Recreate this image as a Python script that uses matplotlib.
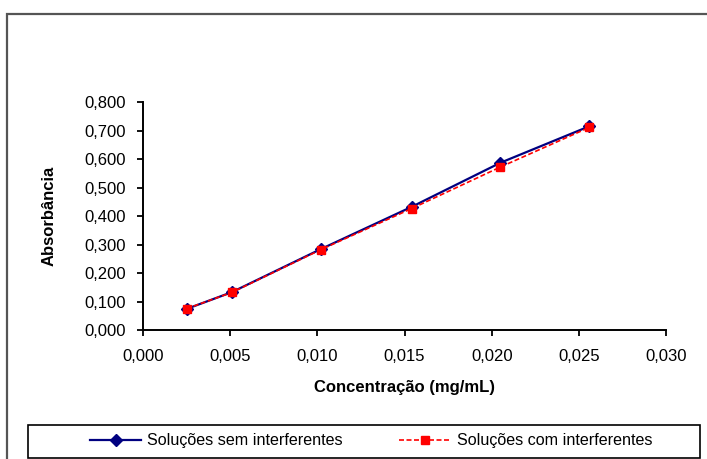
import matplotlib
matplotlib.use("Agg")
import matplotlib.pyplot as plt
from matplotlib.patches import Rectangle
from matplotlib.ticker import FuncFormatter, MultipleLocator

plt.rcParams['font.family'] = ['Liberation Sans', 'DejaVu Sans']

# concentration (mg/mL) and absorbance readings
conc = [0.0025, 0.0051, 0.0102, 0.0154, 0.0205, 0.0256]
abs_sem = [0.074, 0.133, 0.284, 0.432, 0.587, 0.715]
abs_com = [0.075, 0.132, 0.282, 0.426, 0.572, 0.711]

fig = plt.figure(figsize=(7.07, 4.59), dpi=100)
ax = fig.add_axes([0.2023, 0.2810, 0.7398, 0.4967])

ax.plot(conc, abs_sem, color='#000080', lw=1.6, marker='D', ms=6,
        label='Soluções sem interferentes')
ax.plot(conc, abs_com, color='#ff0000', lw=1.2, ls=(0, (3, 1.5)), marker='s', ms=5.8,
        label='Soluções com interferentes')

ax.set_xlim(0, 0.030)
ax.set_ylim(0, 0.8)
ax.xaxis.set_major_locator(MultipleLocator(0.005))
ax.yaxis.set_major_locator(MultipleLocator(0.1))
ax.xaxis.set_major_formatter(FuncFormatter(lambda v, p: f'{v:.3f}'.replace('.', ',')))
ax.yaxis.set_major_formatter(FuncFormatter(lambda v, p: f'{v:.3f}'.replace('.', ',')))

for s in ['top', 'right']:
    ax.spines[s].set_visible(False)
for s in ['left', 'bottom']:
    ax.spines[s].set_linewidth(1.4)
ax.tick_params(axis='x', length=4, width=1.3, pad=10, labelsize=12)
ax.tick_params(axis='y', length=4, width=1.3, pad=8, labelsize=12)

ax.set_xlabel('Concentração (mg/mL)', fontsize=12, fontweight='bold', labelpad=11.5)
ax.set_ylabel('Absorbância', fontsize=12, fontweight='bold', labelpad=20)

# legend box across the bottom
fig.add_artist(Rectangle((28 / 707, 1 / 459), 672 / 707, 33 / 459, transform=fig.transFigure,
                         fill=False, edgecolor='black', lw=1.2))
fig.legend(loc='center', bbox_to_anchor=(371 / 707, 18 / 459), ncol=2, frameon=False,
           fontsize=11.6, handlelength=3.2, handletextpad=0.37, columnspacing=3.5)

# outer chart frame
fig.add_artist(Rectangle((7 / 707, -0.1), 1.2, 1.1 - 14 / 459, transform=fig.transFigure,
                         fill=False, edgecolor='#555555', lw=1.6, clip_on=False))

fig.savefig('out.png', dpi=100)
